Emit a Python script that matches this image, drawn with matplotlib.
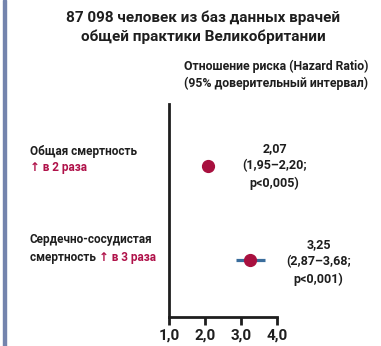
import matplotlib.pyplot as plt
from matplotlib.patches import Rectangle

# hazard ratios with 95% CI
outcomes = ["Общая смертность", "Сердечно-сосудистая\nсмертность"]
increase = ["↑ в 2 раза", "↑ в 3 раза"]
hr = [2.07, 3.25]
ci_low = [1.95, 2.87]
ci_high = [2.20, 3.68]
p_text = ["p<0,005", "p<0,001"]
rows = [2, 1]
xticks = [1, 2, 3, 4]
xtick_labels = ["1,0", "2,0", "3,0", "4,0"]

fonts = ["Roboto", "DejaVu Sans"]
plt.rcParams["font.family"] = fonts

dark = "#1e1e1e"
red = "#b0124a"
blue = "#3a6d9c"

fig = plt.figure(figsize=(3.81, 3.46), dpi=100)
fig.patch.set_facecolor("white")

# blue bar on left edge
fig.patches.append(Rectangle((3 / 381, 0), 3 / 381, 1, transform=fig.transFigure,
                             color="#7484ad", zorder=0))

ax = fig.add_axes([169 / 381, 1 - 317 / 346, 108 / 381, 213 / 346])
ax.set_xlim(1, 4)
ax.set_ylim(0.394, 2.66)

for y, v, lo, hi in zip(rows, hr, ci_low, ci_high):
    ax.plot([lo, hi], [y, y], color=blue, lw=2.3, solid_capstyle="butt", clip_on=False)
    ax.plot(v, y, "o", color="#a8103f", markersize=8.5, clip_on=False, zorder=3)

# value labels right of each marker
offsets = [(1.86, 0.0), (1.9, -0.02)]
for y, v, lo, hi, p, (dx, dy) in zip(rows, hr, ci_low, ci_high, p_text, offsets):
    label = "{}\n({}–{};\n{})".format(
        f"{v:.2f}".replace(".", ","),
        f"{lo:.2f}".replace(".", ","),
        f"{hi:.2f}".replace(".", ","),
        p,
    )
    ax.text(v + dx, y + dy, label, ha="center", va="center", fontsize=9,
            fontweight="bold", color=dark, linespacing=1.38, clip_on=False)

for s in ["top", "right"]:
    ax.spines[s].set_visible(False)
for s in ["left", "bottom"]:
    ax.spines[s].set_linewidth(2)
    ax.spines[s].set_color(dark)
ax.set_yticks([])
ax.set_xticks(xticks)
ax.set_xticklabels(xtick_labels, fontsize=11, fontweight="bold", color=dark)
ax.tick_params(axis="x", direction="out", length=6, width=2, color=dark, pad=2)

# titles
fig.text(203 / 381, 1 - 18 / 346, "87 098 человек из баз данных врачей",
         ha="center", va="center", fontsize=11, fontweight="bold", color=dark)
fig.text(203 / 381, 1 - 37 / 346, "общей практики Великобритании",
         ha="center", va="center", fontsize=11, fontweight="bold", color=dark)
fig.text(276 / 381, 1 - 66 / 346, "Отношение риска (Hazard Ratio)",
         ha="center", va="center", fontsize=8.8, fontweight="bold", color=dark)
fig.text(276 / 381, 1 - 83 / 346, "(95% доверительный интервал)",
         ha="center", va="center", fontsize=8.8, fontweight="bold", color=dark)

# row labels
fig.text(30 / 381, 1 - 152 / 346, outcomes[0], ha="left", va="center",
         fontsize=8.5, fontweight="bold", color=dark)
fig.text(30 / 381, 1 - 168 / 346, increase[0], ha="left", va="center",
         fontsize=8.5, fontweight="bold", color=red)
fig.text(30 / 381, 1 - 240 / 346, outcomes[1].split("\n")[0], ha="left", va="center",
         fontsize=8.5, fontweight="bold", color=dark)
t = fig.text(30 / 381, 1 - 257 / 346, outcomes[1].split("\n")[1] + " ", ha="left",
             va="center", fontsize=8.5, fontweight="bold", color=dark)
fig.canvas.draw()
bb = t.get_window_extent()
fig.text(bb.x1 / fig.bbox.width, 1 - 257 / 346, increase[1], ha="left", va="center",
         fontsize=8.5, fontweight="bold", color=red)

fig.savefig("out.png", dpi=100)
